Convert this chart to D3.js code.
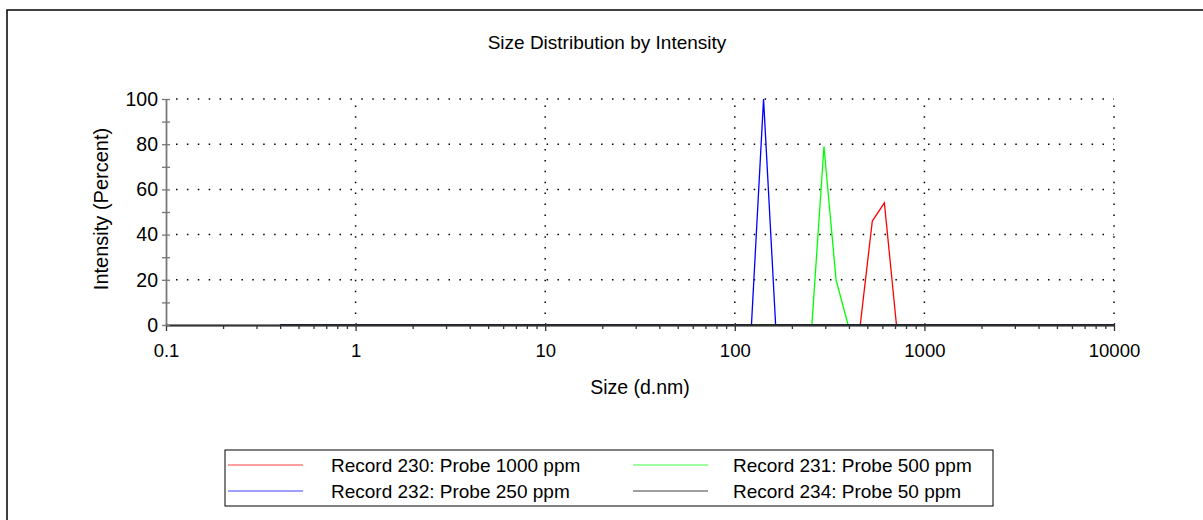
<!DOCTYPE html>
<html>
<head>
<meta charset="utf-8">
<script src="https://cdn.jsdelivr.net/npm/d3@7"></script>
<style>
  body { margin: 0; background: #fff; }
  svg { display: block; font-family: "Liberation Sans", Arial, sans-serif; }
</style>
</head>
<body>
<script>
// data (Malvern size bins, d.nm)
const xTicks = [0.1, 1, 10, 100, 1000, 10000];
const xTickLabels = ["0.1", "1", "10", "100", "1000", "10000"];
const yTicks = [0, 20, 40, 60, 80, 100];
const yMinor = [10, 30, 50, 70, 90];

const names = ["Record 230: Probe 1000 ppm", "Record 231: Probe 500 ppm",
               "Record 232: Probe 250 ppm", "Record 234: Probe 50 ppm"];
const colors = ["#ff0000", "#00ff00", "#0000ff", "#000000"];

const size230 = [0.4, 458.7, 531.2, 615.1, 712.4, 10000];
const val230  = [0, 0, 46, 54, 0, 0];
const size231 = [0.4, 255.0, 295.3, 342.0, 396.1, 10000];
const val231  = [0, 0, 79, 20, 0, 0];
const size232 = [0.4, 122.4, 141.8, 164.2, 10000];
const val232  = [0, 0, 100, 0, 0];
const size234 = [0.4, 10000];
const val234  = [0, 0];

const sizes = [size230, size231, size232, size234];
const vals = [val230, val231, val232, val234];

const W = 1203, H = 520;
const svg = d3.select("body").append("svg").attr("width", W).attr("height", H);

// outer frame
svg.append("rect").attr("x", 7).attr("y", 10).attr("width", W + 20).attr("height", H + 20)
  .attr("fill", "none").attr("stroke", "#000").attr("stroke-width", 1.5);

const x = d3.scaleLog().domain([0.1, 10000]).range([166, 1114]);
const y = d3.scaleLinear().domain([0, 100]).range([325, 99]);

// minor x ticks 2..9 per decade
const xMinor = [];
for (let d = 0.1; d < 10000; d *= 10) for (let k = 2; k <= 9; k++) xMinor.push(+(d * k).toPrecision(3));

// dotted grid
const grid = svg.append("g").attr("stroke", "#000").attr("stroke-width", 1.5)
  .attr("stroke-dasharray", "1.5,9.4");
grid.selectAll(".gy").data(yTicks.slice(1)).enter().append("line")
  .attr("x1", x(0.1) + 10).attr("x2", x(10000)).attr("y1", d => y(d)).attr("y2", d => y(d));
grid.selectAll(".gx").data(xTicks.slice(1)).enter().append("line")
  .attr("x1", d => x(d)).attr("x2", d => x(d)).attr("y1", y(0) - 11).attr("y2", y(100));

// series
const line = d3.line().x(d => x(d[0])).y(d => y(d[1]));
sizes.forEach((s, i) => {
  svg.append("path")
    .datum(s.map((v, j) => [v, vals[i][j]]))
    .attr("fill", "none").attr("stroke", colors[i]).attr("stroke-width", 1.3)
    .attr("d", line);
});

// x axis
const xg = svg.append("g").attr("transform", `translate(0,${y(0)})`);
xg.call(d3.axisBottom(x).tickValues(xTicks).tickFormat((d, i) => xTickLabels[i])
  .tickSizeInner(6).tickSizeOuter(0).tickPadding(13));
xg.append("g").call(d3.axisBottom(x).tickValues(xTicks).tickFormat("").tickSize(-2).tickSizeOuter(0));
xg.append("g").call(d3.axisBottom(x).tickValues(xMinor).tickFormat("").tickSize(4).tickSizeOuter(0));
xg.selectAll("path,line").attr("stroke", "#333").attr("stroke-width", 1.3);
xg.selectAll("text").attr("font-size", "18.5px").attr("fill", "#000").attr("font-family", "Liberation Sans, Arial, sans-serif");

// y axis
const yg = svg.append("g").attr("transform", `translate(${x(0.1)},0)`);
yg.call(d3.axisLeft(y).tickValues(yTicks).tickSizeInner(4).tickSizeOuter(0).tickPadding(4));
yg.append("g").call(d3.axisLeft(y).tickValues(yTicks.concat(yMinor)).tickFormat("").tickSize(-4).tickSizeOuter(0));
yg.append("g").call(d3.axisLeft(y).tickValues(yMinor).tickFormat("").tickSize(4).tickSizeOuter(0));
yg.selectAll("path,line").attr("stroke", "#777").attr("stroke-width", 1.3);
yg.selectAll("text").attr("font-size", "19.5px").attr("fill", "#000").attr("font-family", "Liberation Sans, Arial, sans-serif");

// titles
svg.append("text").attr("x", 607).attr("y", 49).attr("text-anchor", "middle")
  .attr("font-size", "19px").text("Size Distribution by Intensity");
svg.append("text").attr("x", 640).attr("y", 394).attr("text-anchor", "middle")
  .attr("font-size", "19.5px").text("Size (d.nm)");
svg.append("text").attr("transform", "translate(108,209) rotate(-90)").attr("text-anchor", "middle")
  .attr("font-size", "20px").text("Intensity (Percent)");

// legend
const lg = svg.append("g");
lg.append("rect").attr("x", 225).attr("y", 450).attr("width", 768).attr("height", 56)
  .attr("fill", "#fff").attr("stroke", "#000").attr("stroke-width", 1);
names.forEach((n, i) => {
  const cx = i % 2 === 0 ? 228 : 633;
  const tx = i % 2 === 0 ? 331 : 733;
  const cy = i < 2 ? 465 : 491;
  lg.append("line").attr("x1", cx).attr("x2", cx + 75).attr("y1", cy).attr("y2", cy)
    .attr("stroke", colors[i]).attr("stroke-opacity", 0.5).attr("stroke-width", 1.5);
  lg.append("text").attr("x", tx).attr("y", cy + 7).attr("font-size", "19px").text(n);
});
</script>
</body>
</html>
